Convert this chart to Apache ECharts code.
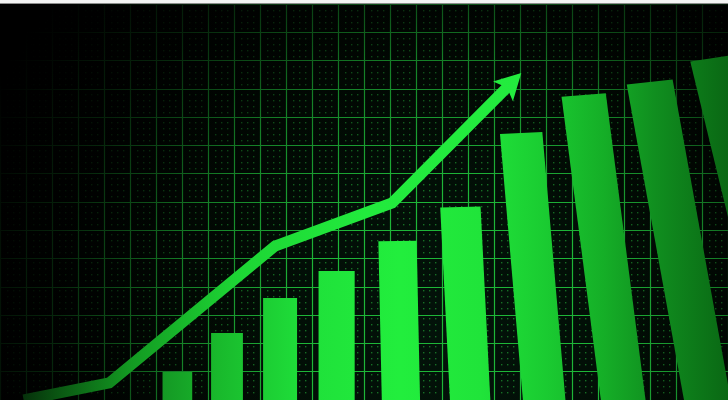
<!DOCTYPE html>
<html><head><meta charset="utf-8">
<script src="https://cdn.jsdelivr.net/npm/echarts@6/dist/echarts.min.js"></script>
<style>
html,body{margin:0;padding:0;width:728px;height:400px;overflow:hidden;background:#fff;}
#strip{position:absolute;left:0;top:0;width:728px;height:3px;background:#f3f3f3;border-bottom:1px solid #8c8c8c;}
#chart{position:absolute;left:0;top:4px;width:728px;height:396px;}
</style></head><body>
<div id="strip"></div><div id="chart"></div>
<script>
// ---- data ----
const categories = ['1', '2', '3', '4', '5', '6', '7', '8', '9', '10'];
const barValues = [7, 16.75, 25.5, 32.25, 39.75, 48.25, 66.75, 76.25, 79.5, 85.5];
const trendX = [-3.7, -1.5, 1.91, 3.93, 5.92];
const trendY = [0, 4.25, 38.5, 49.25, 81.75];

// ---- perspective styling helpers ----
const W = 728;
const C0 = 177.2, K = 0.000753;
function persp(px) { return px + K * (px - C0) * (px - C0); }
function slantOf(cx) { const d = Math.max(0, cx - 340); return 0.00035 * d + 0.0000006 * d * d; }

const barFill = new echarts.graphic.LinearGradient(0, 0, W, 0, [
  {offset: 0.0, color: '#0e7a1b'},
  {offset: 0.2, color: '#138f22'},
  {offset: 0.3, color: '#19b92c'},
  {offset: 0.42, color: '#1fe03a'},
  {offset: 0.55, color: '#22ee3d'},
  {offset: 0.66, color: '#20e43a'},
  {offset: 0.75, color: '#1acb31'},
  {offset: 0.83, color: '#15ae27'},
  {offset: 0.9, color: '#108e1f'},
  {offset: 1.0, color: '#0a6814'}
], true);

const lineColor = new echarts.graphic.LinearGradient(0, 0, W, 0, [
  {offset: 0.0, color: '#031806'},
  {offset: 0.08, color: '#0a5612'},
  {offset: 0.18, color: '#139a22'},
  {offset: 0.32, color: '#1dd434'},
  {offset: 0.5, color: '#22ea3d'},
  {offset: 1.0, color: '#24ee3f'}
], true);

// faint dot texture inside the mesh cells
const dotTile = document.createElement('canvas');
dotTile.width = 26; dotTile.height = 28;
(function () {
  const g = dotTile.getContext('2d');
  g.fillStyle = 'rgba(40,190,60,0.55)';
  [7, 13, 19].forEach(x => [6, 12, 18, 24].forEach(y => g.fillRect(x, y, 1.4, 1.4)));
})();

function renderBar(params, api) {
  const i = api.value(0), v = api.value(1);
  const top = api.coord([i, v]);
  const base = api.coord([i, 0]);
  const hw = api.size([1, 0])[0] * 0.31;
  const cx = persp(top[0]);
  const xl = persp(top[0] - hw), xr = persp(top[0] + hw);
  const s = slantOf(cx);
  const t = s * 0.6;
  const y0 = 196;
  const sh = y => s * (y - y0);
  const ytl = top[1] + t * (cx - xl);
  const ytr = top[1] - t * (xr - cx);
  const yb = base[1] + 10;
  return {
    type: 'polygon',
    shape: {points: [
      [xl + sh(ytl), ytl], [xr + sh(ytr), ytr],
      [xr + sh(yb), yb], [xl + sh(yb), yb]
    ]},
    style: {fill: barFill}
  };
}

function renderTrend(params, api) {
  if (params.dataIndex !== trendX.length - 1) return null;
  const P = trendX.map((x, k) => {
    const c = api.coord([x, trendY[k]]);
    return [persp(c[0]), c[1]];
  });
  const n = P.length;
  const tip = P[n - 1], prev = P[n - 2];
  let dx = tip[0] - prev[0], dy = tip[1] - prev[1];
  const L = Math.sqrt(dx * dx + dy * dy); dx /= L; dy /= L;
  const px = -dy, py = dx;
  const headLen = 26, half = 14;
  const bx = tip[0] - dx * headLen, by = tip[1] - dy * headLen;
  const nx = tip[0] - dx * headLen * 0.78, ny = tip[1] - dy * headLen * 0.78;
  const shaft = P.slice(0, n - 1).concat([[tip[0] - dx * headLen * 0.6, tip[1] - dy * headLen * 0.6]]);
  return {
    type: 'group',
    children: [
      {type: 'polyline', shape: {points: shaft},
       style: {stroke: lineColor, lineWidth: 11, fill: null, lineJoin: 'miter', lineCap: 'butt'}},
      {type: 'polygon', shape: {points: [tip, [bx + px * half, by + py * half], [nx, ny], [bx - px * half, by - py * half]]},
       style: {fill: lineColor}}
    ]
  };
}

const chart = echarts.init(document.getElementById('chart'), null, {renderer: 'canvas'});
const meshLine = {show: true, lineStyle: {color: '#1eb638', width: 1.2}};
chart.setOption({
  animation: false,
  backgroundColor: new echarts.graphic.RadialGradient(450, 330, 520, [
    {offset: 0, color: '#03130a'},
    {offset: 0.6, color: '#010a03'},
    {offset: 1, color: '#000000'}
  ], true),
  grid: [
    {left: 0, right: 0, top: 0, bottom: 0},
    {left: 0, right: 0, top: 0, bottom: 0}
  ],
  xAxis: [
    {type: 'value', gridIndex: 0, min: -3.7, max: 11.5, show: false},
    {type: 'value', gridIndex: 1, min: 0, max: 28, interval: 1,
     axisLine: {show: false}, axisTick: {show: false}, axisLabel: {show: false}, splitLine: meshLine}
  ],
  yAxis: [
    {type: 'value', gridIndex: 0, min: 0, max: 99, show: false},
    {type: 'value', gridIndex: 1, min: 0, max: 14, interval: 1,
     axisLine: {show: false}, axisTick: {show: false}, axisLabel: {show: false}, splitLine: meshLine}
  ],
  graphic: [{
    type: 'rect', z: 1, silent: true,
    shape: {x: 0, y: 0, width: W, height: 396},
    style: {fill: {image: dotTile, repeat: 'repeat'}}
  }, {
    type: 'rect', z: 1, silent: true,
    shape: {x: 0, y: 0, width: W, height: 396},
    style: {fill: new echarts.graphic.RadialGradient(450, 330, 520, [
      {offset: 0, color: 'rgba(0,0,0,0)'},
      {offset: 0.29, color: 'rgba(0,0,0,0)'},
      {offset: 0.53, color: 'rgba(0,0,0,0.3)'},
      {offset: 0.63, color: 'rgba(0,0,0,0.55)'},
      {offset: 0.77, color: 'rgba(0,0,0,0.8)'},
      {offset: 0.92, color: 'rgba(0,0,0,0.95)'},
      {offset: 1, color: 'rgba(0,0,0,1)'}
    ], true)}
  }],
  series: [
    {type: 'custom', name: 'bars', xAxisIndex: 0, yAxisIndex: 0, z: 3, clip: false,
     renderItem: renderBar,
     data: barValues.map((v, i) => ({name: categories[i], value: [i, v]}))},
    {type: 'custom', name: 'trend', xAxisIndex: 0, yAxisIndex: 0, z: 4, clip: false,
     renderItem: renderTrend,
     data: trendX.map((x, k) => [x, trendY[k]])}
  ]
});
</script>
</body></html>
